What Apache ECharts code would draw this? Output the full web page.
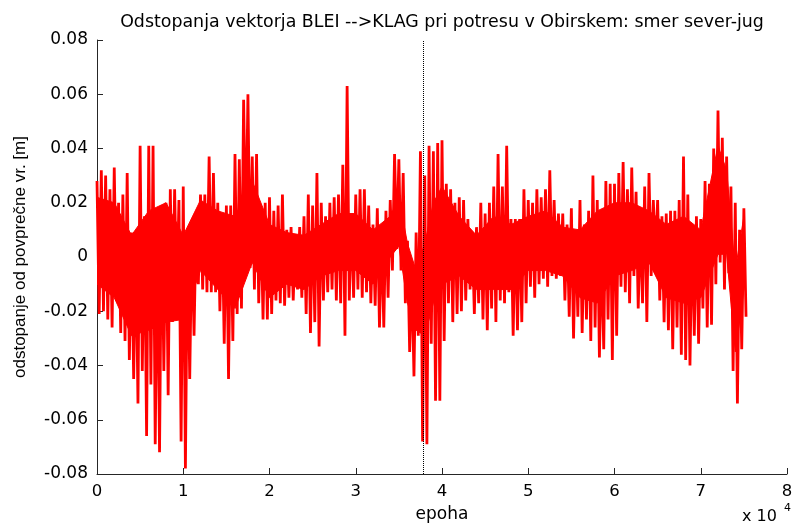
<!DOCTYPE html>
<html>
<head>
<meta charset="utf-8">
<title>Odstopanja vektorja BLEI-KLAG</title>
<script src="https://cdn.jsdelivr.net/npm/echarts@6/dist/echarts.min.js"></script>
<style>
html,body{margin:0;padding:0;background:#fff;}
#chart{width:798px;height:529px;}
</style>
</head>
<body>
<div id="chart"></div>
<script>
/* odcitane vrednosti: za vsak stolpec (korak 500 epoh) zgornji in spodnji vrh */
var step = 500;
var quakeEpoch = 37800;
var xTicks = [0, 1, 2, 3, 4, 5, 6, 7, 8];

var hi = [
  0.028, 0.032, 0.030, 0.025, 0.033, 0.020, 0.023, 0.031, 0.009, 0.008,
  0.041, 0.015, 0.041, 0.041, 0.010, 0.019, 0.020, 0.025, 0.025, 0.021,
  0.026, 0.010, 0.010, 0.015, 0.023, 0.023, 0.037, 0.031, 0.020, 0.015,
  0.019, 0.019, 0.038, 0.036, 0.058, 0.060, 0.037, 0.038, 0.016, 0.020,
  0.022, 0.017, 0.019, 0.023, 0.010, 0.011, 0.008, 0.011, 0.015, 0.023,
  0.019, 0.031, 0.020, 0.015, 0.020, 0.022, 0.023, 0.034, 0.063, 0.016,
  0.023, 0.025, 0.025, 0.019, 0.012, 0.018, 0.010, 0.017, 0.021, 0.038,
  0.036, 0.031, 0.006, -0.005, 0.009, 0.039, 0.030, 0.041, 0.039, 0.042,
  0.043, 0.027, 0.025, 0.020, 0.022, 0.021, 0.014, 0.009, 0.011, 0.020,
  0.016, 0.020, 0.026, 0.038, 0.026, 0.041, 0.014, 0.014, 0.014, 0.025,
  0.021, 0.020, 0.025, 0.022, 0.025, 0.032, 0.021, 0.016, 0.016, 0.012,
  0.018, 0.010, 0.021, 0.012, 0.017, 0.030, 0.021, 0.004, 0.028, 0.027,
  0.027, 0.031, 0.035, 0.025, 0.033, 0.024, 0.013, 0.026, 0.031, 0.021,
  0.021, 0.015, 0.016, 0.017, 0.017, 0.021, 0.037, 0.023, 0.012, 0.015,
  0.014, 0.028, 0.027, 0.040, 0.054, 0.044, 0.037, 0.026, 0.020, 0.010,
  0.018
];

var lo = [
  -0.021, -0.020, -0.023, -0.026, -0.016, -0.028, -0.031, -0.038, -0.045, -0.054,
  -0.042, -0.066, -0.047, -0.069, -0.072, -0.042, -0.051, -0.024, -0.017, -0.068,
  -0.078, -0.045, -0.029, -0.010, -0.012, -0.013, -0.013, -0.013, -0.020, -0.032,
  -0.045, -0.031, -0.021, -0.019, 0.005, -0.004, -0.012, -0.017, -0.023, -0.023,
  -0.021, -0.016, -0.017, -0.018, -0.015, -0.016, -0.012, -0.015, -0.021, -0.028,
  -0.024, -0.033, -0.016, -0.013, -0.012, -0.016, -0.017, -0.029, -0.016, -0.015,
  -0.012, -0.015, -0.013, -0.017, -0.018, -0.026, -0.026, -0.015, -0.005, 0.003,
  -0.005, -0.017, -0.035, -0.044, -0.029, -0.068, -0.069, -0.032, -0.053, -0.053,
  -0.031, -0.017, -0.024, -0.021, -0.020, -0.016, -0.012, -0.021, -0.017, -0.023,
  -0.027, -0.019, -0.024, -0.016, -0.017, -0.013, -0.029, -0.027, -0.024, -0.017,
  -0.011, -0.015, -0.010, -0.008, -0.011, -0.007, -0.008, -0.007, -0.016, -0.022,
  -0.030, -0.022, -0.028, -0.023, -0.031, -0.026, -0.037, -0.034, -0.023, -0.038,
  -0.029, -0.011, -0.013, -0.017, -0.007, -0.019, -0.017, -0.024, -0.007, 0.000,
  -0.016, -0.024, -0.027, -0.034, -0.026, -0.036, -0.038, -0.040, -0.029, -0.032,
  -0.019, -0.026, -0.025, -0.010, -0.002, -0.012, -0.006, -0.042, -0.054, -0.034,
  -0.022
];

/* gosto jedro signala (skoraj poln rdec pas) */
var coreEpochs = [
  0, 2000, 4000, 6000, 8000, 10000, 12000, 14000, 16000, 18000,
  20000, 22000, 24000, 26000, 28000, 30000, 32000, 34000, 35000, 36000,
  37000, 38000, 39000, 40000, 42000, 44000, 46000, 48000, 50000, 52000,
  54000, 56000, 58000, 60000, 62000, 64000, 66000, 68000, 70000, 72000,
  73000, 74000, 75000
];
var coreHi = [
  0.022, 0.020, 0.008, 0.017, 0.020, 0.008, 0.021, 0.017, 0.015, 0.028,
  0.012, 0.009, 0.008, 0.012, 0.016, 0.016, 0.010, 0.015, 0.022, 0.005,
  -0.005, 0.005, 0.020, 0.026, 0.015, 0.008, 0.015, 0.012, 0.015, 0.017,
  0.011, 0.010, 0.017, 0.020, 0.020, 0.017, 0.012, 0.015, 0.010, 0.041,
  0.032, -0.005, 0.015
];
var coreLo = [
  -0.010, -0.015, -0.029, -0.027, -0.024, -0.023, -0.005, -0.012, -0.019, -0.002,
  -0.015, -0.010, -0.012, -0.007, -0.005, -0.005, -0.010, 0.000, 0.004, -0.017,
  -0.027, -0.029, -0.017, -0.010, -0.007, -0.012, -0.012, -0.012, -0.005, -0.005,
  -0.007, -0.015, -0.017, -0.007, -0.005, -0.002, -0.015, -0.017, -0.015, 0.001,
  0.001, -0.035, -0.012
];

//zgornji in spodnji vrh izmenicno -> gosta zaga
var data = [];
for (var i = 0; i < hi.length; i++) {
    data.push([i * step, hi[i]]);
    data.push([i * step + step / 2, lo[i]]);
}

var font = 'DejaVu Sans, Verdana, sans-serif';
var fontNarrow = 'Liberation Sans, Arial, sans-serif';
var axisColor = '#262626';
var chart = echarts.init(document.getElementById('chart'));

//zapolnjen pas jedra
function renderCore(params, api) {
    var pts = [];
    for (var i = 0; i < coreEpochs.length; i++) {
        pts.push(api.coord([coreEpochs[i], coreHi[i]]));
    }
    for (var j = coreEpochs.length - 1; j >= 0; j--) {
        pts.push(api.coord([coreEpochs[j], coreLo[j]]));
    }
    return {
        type: 'polygon',
        shape: {points: pts},
        style: {fill: '#ff0000', stroke: '#ff0000', lineWidth: 1}
    };
}

chart.setOption({
    animation: false,
    backgroundColor: '#fff',
    title: {
        text: 'Odstopanja vektorja BLEI -->KLAG pri potresu v Obirskem: smer sever-jug',
        left: 437,
        textAlign: 'center',
        top: 9,
        textStyle: {fontFamily: font, fontSize: 17.4, fontWeight: 'normal', color: '#000'}
    },
    grid: {left: 97, right: 11, top: 40, bottom: 55},
    xAxis: {
        type: 'value',
        min: 0,
        max: 80000,
        interval: 10000,
        name: 'epoha',
        nameLocation: 'middle',
        nameGap: 32,
        nameTextStyle: {fontFamily: font, fontSize: 17, color: '#000'},
        axisLine: {onZero: false, lineStyle: {color: axisColor}},
        axisTick: {inside: true, length: 6, lineStyle: {color: axisColor}},
        axisLabel: {
            fontFamily: font, fontSize: 16.5, color: '#000', margin: 9,
            formatter: function (v) { return xTicks[Math.round(v / 10000)] + ''; }
        },
        splitLine: {show: false}
    },
    yAxis: {
        type: 'value',
        min: -0.08,
        max: 0.08,
        interval: 0.02,
        name: 'odstopanje od povprečne vr. [m]',
        nameLocation: 'middle',
        nameGap: 68,
        nameTextStyle: {fontFamily: fontNarrow, fontSize: 17, color: '#000'},
        axisLine: {show: true, onZero: false, lineStyle: {color: axisColor}},
        axisTick: {show: true, inside: true, length: 6, lineStyle: {color: axisColor}},
        axisLabel: {
            fontFamily: font, fontSize: 17, color: '#000', margin: 9,
            formatter: function (v) {
                if (Math.abs(v) < 1e-9) return '0';
                return v.toFixed(2);
            }
        },
        splitLine: {show: false}
    },
    graphic: [
        {type: 'text', left: 742, top: 509, style: {text: 'x 10', font: '16px ' + font, fill: '#000'}},
        {type: 'text', left: 784, top: 503, style: {text: '4', font: '11px ' + font, fill: '#000'}}
    ],
    series: [{
        type: 'custom',
        renderItem: renderCore,
        data: [0],
        clip: true,
        z: 2
    }, {
        type: 'line',
        data: data,
        showSymbol: false,
        symbol: 'none',
        lineStyle: {color: '#ff0000', width: 2.8, join: 'bevel'},
        z: 3,
        markLine: {
            silent: true,
            symbol: 'none',
            label: {show: false},
            lineStyle: {color: '#000', type: 'dotted', width: 1},
            data: [{xAxis: quakeEpoch}]
        }
    }]
});
</script>
</body>
</html>
